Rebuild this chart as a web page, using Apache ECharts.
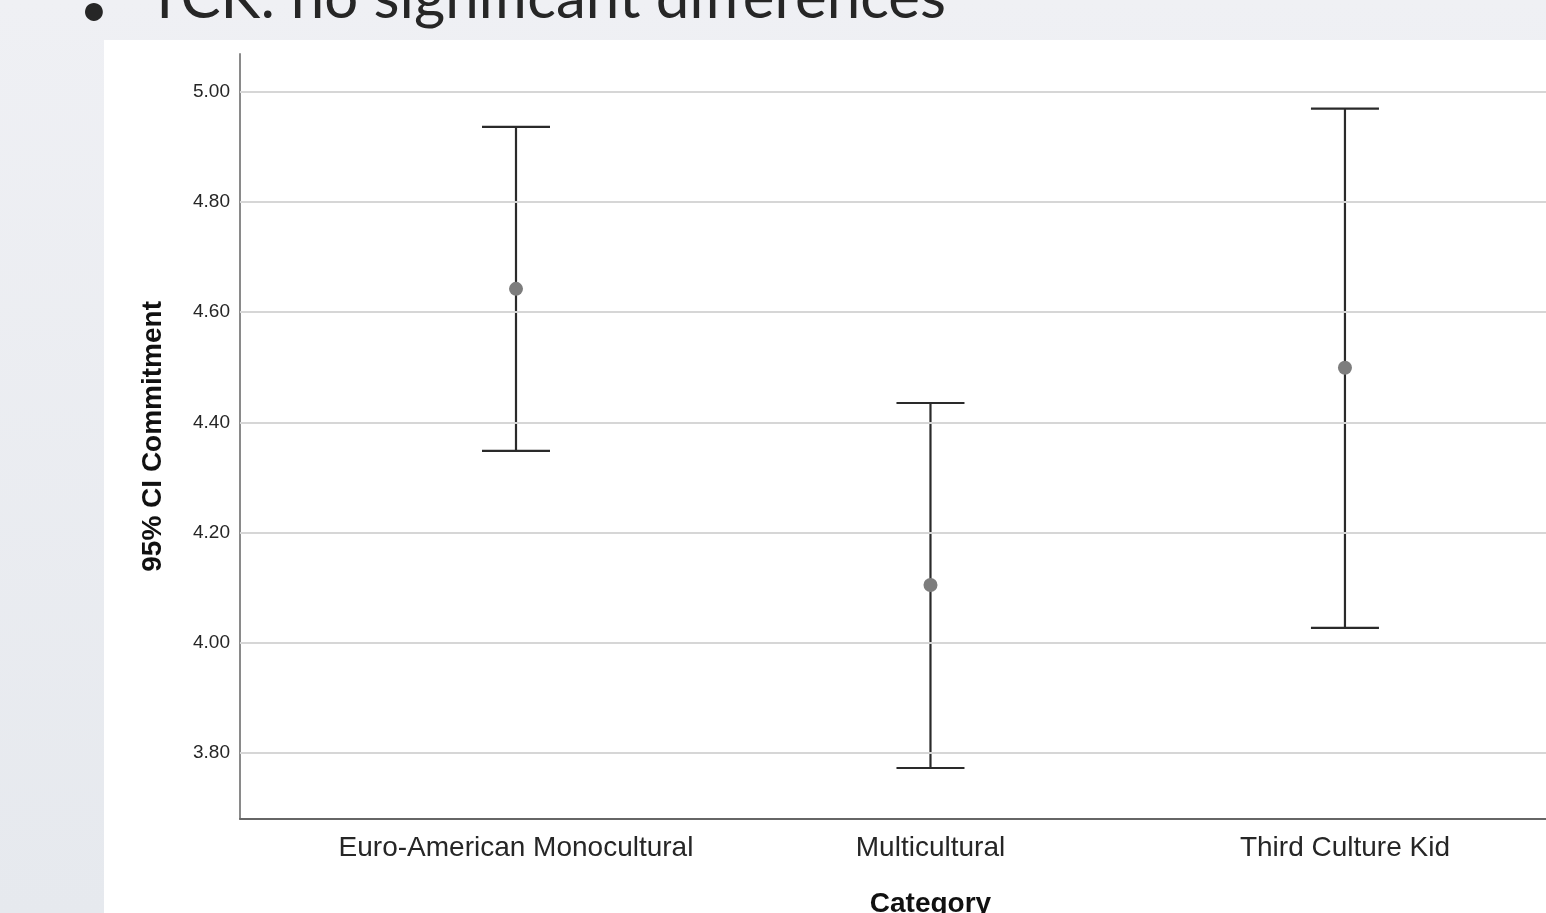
<!DOCTYPE html>
<html>
<head>
<meta charset="utf-8">
<script src="https://cdn.jsdelivr.net/npm/echarts@6/dist/echarts.min.js"></script>
<style>
html,body{margin:0;padding:0;background:#eceef2;}
#c{width:1546px;height:913px;}
</style>
</head>
<body>
<div id="c"></div>
<script>
const categories = ['Euro-American Monocultural', 'Multicultural', 'Third Culture Kid'];
const means = [4.642, 4.105, 4.499];
const lower = [4.348, 3.773, 4.027];
const upper = [4.936, 4.435, 4.969];
const yTicks = [3.8, 4.0, 4.2, 4.4, 4.6, 4.8, 5.0];
const slideTitle = 'TCK: no significant differences';
const yName = '95% CI Commitment';
const xName = 'Category';

const chart = echarts.init(document.getElementById('c'), null, {renderer: 'canvas'});

const barData = categories.map((c, i) => [i, lower[i], upper[i]]);
const meanData = categories.map((c, i) => [i, means[i]]);

const option = {
  animation: false,
  backgroundColor: 'transparent',
  graphic: [
    {type: 'rect', z: -10, shape: {x: 0, y: 0, width: 1546, height: 913},
     style: {fill: new echarts.graphic.LinearGradient(0, 0, 0, 1, [
       {offset: 0, color: '#eff0f4'}, {offset: 1, color: '#e6e9ee'}])}},
    {type: 'rect', z: -9, shape: {x: 104, y: 40, width: 1442, height: 873}, style: {fill: '#ffffff'}},
    {type: 'text', z: -8, x: 80, y: -13, style: {text: '\u2022', font: '48px Lato', fill: '#262626', verticalAlign: 'top'}},
    {type: 'text', z: -8, x: 147, y: -31, style: {text: slideTitle, font: '60px Lato', fill: '#262626', verticalAlign: 'top'}}
  ],
  grid: {left: 240, top: 54, right: -75, bottom: 94.3, containLabel: false, outerBoundsMode: 'none'},
  xAxis: {
    type: 'value', min: -0.6659, max: 2.666,
    axisLine: {show: true, onZero: false, lineStyle: {color: '#666666', width: 2}},
    axisTick: {show: false},
    splitLine: {show: false},
    axisLabel: {
      customValues: [0, 1, 2],
      formatter: v => categories[Math.round(v)] || '',
      color: '#262626', fontFamily: 'Liberation Sans', fontSize: 28, margin: 16
    },
    name: xName, nameLocation: 'middle', nameGap: 72,
    nameTextStyle: {color: '#111', fontFamily: 'Liberation Sans', fontWeight: 'bold', fontSize: 28}
  },
  yAxis: {
    type: 'value', min: 3.681, max: 5.068,
    axisLine: {show: true, onZero: false, lineStyle: {color: '#8a8a8a', width: 2}},
    axisTick: {show: false, customValues: yTicks},
    splitLine: {show: false},
    axisLabel: {
      customValues: yTicks,
      formatter: v => v.toFixed(2),
      color: '#262626', fontFamily: 'Liberation Sans', fontSize: 19, margin: 10
    },
    name: yName, nameLocation: 'middle', nameGap: 73, nameRotate: 90,
    nameTextStyle: {color: '#111', fontFamily: 'Liberation Sans', fontWeight: 'bold', fontSize: 28}
  },
  series: [
    {
      type: 'line', data: [], z: 1, silent: true,
      markLine: {
        silent: true, symbol: 'none', label: {show: false},
        lineStyle: {color: '#d6d6d6', width: 2, type: 'solid'},
        data: yTicks.map(v => ({yAxis: v}))
      }
    },
    {
      type: 'custom', z: 3, silent: true,
      data: barData,
      renderItem: function (params, api) {
        const x = api.value(0);
        const lo = api.coord([x, api.value(1)]);
        const hi = api.coord([x, api.value(2)]);
        const hw = 34;
        const st = {stroke: '#2a2a2a', lineWidth: 2.2};
        return {type: 'group', children: [
          {type: 'line', shape: {x1: lo[0], y1: lo[1], x2: hi[0], y2: hi[1]}, style: st},
          {type: 'line', shape: {x1: hi[0] - hw, y1: hi[1], x2: hi[0] + hw, y2: hi[1]}, style: st},
          {type: 'line', shape: {x1: lo[0] - hw, y1: lo[1], x2: lo[0] + hw, y2: lo[1]}, style: st}
        ]};
      }
    },
    {
      type: 'scatter', z: 4, silent: true,
      data: meanData, symbol: 'circle', symbolSize: 14,
      itemStyle: {color: '#7d7d7d', opacity: 1}
    }
  ]
};
chart.setOption(option);
</script>
</body>
</html>
